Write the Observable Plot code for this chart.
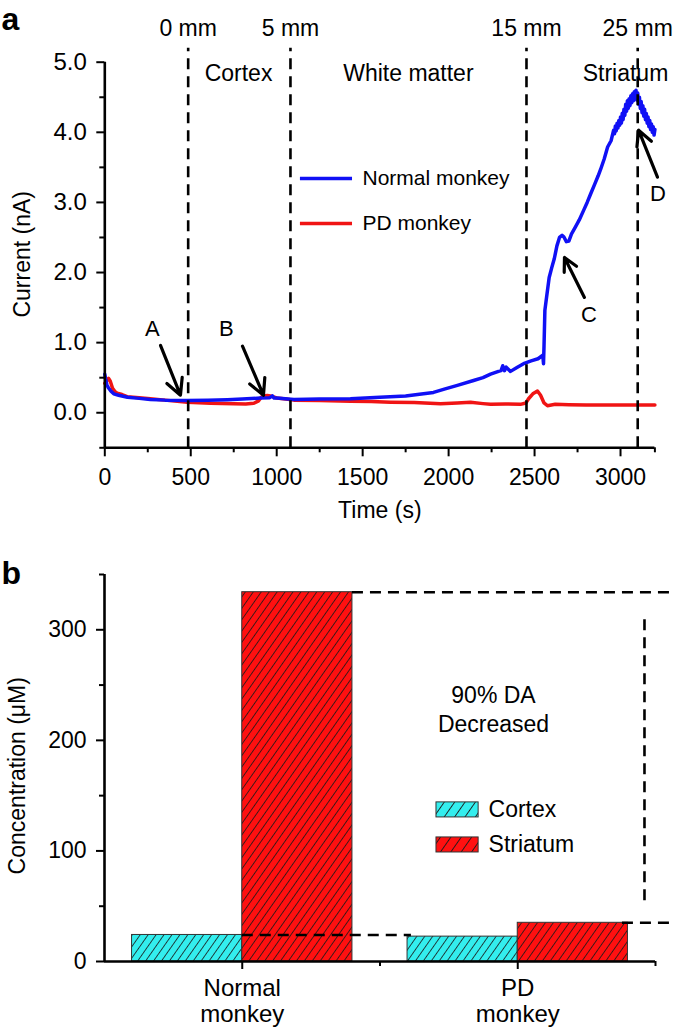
<!DOCTYPE html>
<html><head><meta charset="utf-8">
<script src="https://cdn.jsdelivr.net/npm/d3@7"></script>
<script src="https://cdn.jsdelivr.net/npm/@observablehq/plot@0.6"></script>
<style>
html,body{margin:0;padding:0;background:#fff;}
#wrap{width:675px;height:1033px;position:relative;overflow:hidden;background:#fff;}
#wrap svg{display:block;}
</style></head><body>
<svg width="0" height="0" style="position:absolute">
<defs>
<pattern id="hatchCyan" patternUnits="userSpaceOnUse" width="6.5" height="6.5" patternTransform="rotate(35)">
<rect width="6.5" height="6.5" fill="#33eeee"/><line x1="3.25" y1="0" x2="3.25" y2="6.5" stroke="#1a1a1a" stroke-width="0.8"/>
</pattern>
<pattern id="hatchRed" patternUnits="userSpaceOnUse" width="6.5" height="6.5" patternTransform="rotate(35)">
<rect width="6.5" height="6.5" fill="#ff1010"/><line x1="3.25" y1="0" x2="3.25" y2="6.5" stroke="#1a1a1a" stroke-width="0.8"/>
</pattern>
<pattern id="hatchCyanL" patternUnits="userSpaceOnUse" width="8.5" height="8.5" patternTransform="rotate(35)">
<rect width="8.5" height="8.5" fill="#33eeee"/><line x1="4.25" y1="0" x2="4.25" y2="8.5" stroke="#1a1a1a" stroke-width="0.9"/>
</pattern>
<pattern id="hatchRedL" patternUnits="userSpaceOnUse" width="8.5" height="8.5" patternTransform="rotate(35)">
<rect width="8.5" height="8.5" fill="#ff1010"/><line x1="4.25" y1="0" x2="4.25" y2="8.5" stroke="#1a1a1a" stroke-width="0.9"/>
</pattern>
</defs></svg>
<div id="wrap"></div>
<script>
const FONT = "'Liberation Sans', Arial, Helvetica, sans-serif";
const BLUE = "#1010f5";
const RED = "#f01414";

// ---------- Panel a data ----------
const normalTime = [0,5,12,20,35,52,80,132,200,265,350,480,600,713,800,905,960,975,985,1000,1100,1250,1429,1600,1750,1819,1912,1980,2051,2145,2200,2244,2290,2305,2315,2325,2335,2360,2400,2436,2480,2520,2548,2552,2555,2560,2570,2585,2600,2615,2630,2645,2660,2670,2685,2700,2715,2738,2760,2786,2806,2826,2850,2870,2884,2905,2925,2945,2960,2965,2970,2975,2980,2985,2990,2995,3000,3005,3010,3015,3020,3025,3030,3035,3040,3045,3050,3055,3060,3065,3070,3075,3080,3085,3090,3095,3100,3105,3110,3115,3120,3125,3130,3135,3140,3145,3150,3155,3160,3165,3170,3175,3180,3185,3190,3195,3200];
const normalCurrent = [0.55,0.48,0.40,0.36,0.31,0.27,0.25,0.22,0.205,0.19,0.18,0.175,0.178,0.185,0.195,0.21,0.215,0.24,0.21,0.21,0.19,0.195,0.20,0.22,0.24,0.26,0.29,0.34,0.39,0.46,0.50,0.55,0.59,0.60,0.67,0.60,0.65,0.59,0.65,0.70,0.74,0.77,0.82,0.70,0.95,1.46,1.65,1.93,2.07,2.20,2.38,2.50,2.53,2.51,2.44,2.45,2.55,2.65,2.75,2.89,3.00,3.12,3.26,3.38,3.47,3.62,3.79,3.88,4.03,3.98,4.09,4.02,4.13,4.06,4.17,4.10,4.22,4.13,4.27,4.18,4.33,4.24,4.40,4.30,4.45,4.34,4.48,4.38,4.52,4.42,4.55,4.45,4.58,4.48,4.60,4.46,4.56,4.40,4.50,4.34,4.44,4.28,4.38,4.23,4.33,4.18,4.27,4.13,4.22,4.08,4.17,4.04,4.12,4.00,4.08,3.96,4.04,3.92,3.97];
const pdTime = [0,10,22,32,45,60,72,100,130,200,265,350,480,615,750,820,867,895,910,923,945,964,1000,1040,1100,1250,1429,1550,1662,1800,1953,2050,2128,2200,2244,2330,2418,2450,2465,2490,2517,2535,2555,2575,2620,2700,2800,2900,3000,3100,3200];
const pdCurrent = [0.42,0.45,0.49,0.45,0.35,0.30,0.28,0.26,0.23,0.215,0.20,0.18,0.15,0.135,0.13,0.125,0.135,0.17,0.22,0.24,0.245,0.24,0.21,0.20,0.18,0.175,0.165,0.16,0.15,0.145,0.13,0.14,0.15,0.13,0.12,0.125,0.12,0.14,0.20,0.27,0.31,0.25,0.14,0.10,0.12,0.115,0.11,0.11,0.11,0.11,0.11];

const boundaryTime = [485, 1080, 2453, 3100];
const boundaryLabel = ["0 mm", "5 mm", "15 mm", "25 mm"];
const regionLabel = ["Cortex", "White matter", "Striatum"];
const regionTime = [778, 1766, 3029];
const arrowLabel = ["A", "B", "C", "D"];
const arrowTailT = [324, 801, 2790, 3215];
const arrowTailV = [0.96, 0.95, 1.645, 3.36];
const arrowHeadT = [440, 923, 2674, 3105];
const arrowHeadV = [0.25, 0.25, 2.215, 4.03];
const arrowLabelT = [277, 707, 2816, 3218];
const arrowLabelV = [1.2, 1.2, 1.39, 3.12];
const seriesNames = ["Normal monkey", "PD monkey"];
const xMajorA = [0, 500, 1000, 1500, 2000, 2500, 3000];
const xMinorA = [250, 750, 1250, 1750, 2250, 2750, 3200];
const yMajorA = [0, 1, 2, 3, 4, 5];
const yMinorA = [-0.5, 0.5, 1.5, 2.5, 3.5, 4.5];

// ---------- Panel b data ----------
const groupLabels = ["Normal\nmonkey", "PD\nmonkey"];
const regionNames = ["Cortex", "Striatum"];
const cortexConc = [24, 22.5];
const striatumConc = [334, 35];
const yMajorB = [0, 100, 200, 300];
const yMinorB = [50, 150, 250, 350];

const normal = normalTime.map((t, i) => ({t, v: normalCurrent[i]}));
const pd = pdTime.map((t, i) => ({t, v: pdCurrent[i]}));
const arrows = arrowLabel.map((k, i) => ({k, x1: arrowTailT[i], y1: arrowTailV[i], x2: arrowHeadT[i], y2: arrowHeadV[i], lx: arrowLabelT[i], ly: arrowLabelV[i]}));
const legendA = [
  {name: seriesNames[0], stroke: BLUE, y: 3.34},
  {name: seriesNames[1], stroke: RED, y: 2.70}
];

const style = {fontFamily: FONT, fontSize: "22px", color: "#000", background: "#fff", overflow: "visible"};

const plotA = Plot.plot({
  width: 675, height: 540,
  marginLeft: 104.3, marginRight: 20.6, marginTop: 61.7, marginBottom: 92.7,
  x: {domain: [0, 3200]},
  y: {domain: [-0.5, 5]},
  style,
  marks: [
    Plot.line(pd, {x: "t", y: "v", stroke: RED, strokeWidth: 3.5, strokeLinejoin: "round"}),
    Plot.line(normal, {x: "t", y: "v", stroke: BLUE, strokeWidth: 3.5, strokeLinejoin: "round"}),
    Plot.ruleX(boundaryTime, {x: d => d, y1: -0.5, y2: 5.2, stroke: "#000", strokeWidth: 2.6, strokeDasharray: "11,7"}),
    Plot.text(boundaryLabel, {x: (d, i) => boundaryTime[i], y: 5.48, text: d => d, fontSize: 23}),
    Plot.text(regionLabel, {x: (d, i) => regionTime[i], y: 4.83, text: d => d, fontSize: 23}),
    Plot.ruleY(legendA, {y: "y", x1: 1138, x2: 1441, stroke: d => d.stroke, strokeWidth: 3.5}),
    Plot.text(legendA, {y: "y", x: 1499, text: "name", textAnchor: "start", fontSize: 21}),
    Plot.arrow(arrows, {x1: "x1", y1: "y1", x2: "x2", y2: "y2", stroke: "#000", strokeWidth: 3.2, headLength: 12, headAngle: 55}),
    Plot.text(arrows, {x: "lx", y: "ly", text: "k", fontSize: 22}),
    Plot.ruleY([-0.5], {stroke: "#000", strokeWidth: 2.6}),
    Plot.ruleX([0], {y1: -0.5, y2: 5, stroke: "#000", strokeWidth: 2.6}),
    Plot.axisX({ticks: xMajorA, tickSize: 9, tickPadding: 12, strokeWidth: 2, tickFormat: d => String(d), label: null, fontSize: 23}),
    Plot.axisX({ticks: xMinorA, tickSize: 5, strokeWidth: 2, tickFormat: () => "", label: null}),
    Plot.axisY({ticks: yMajorA, tickSize: 8, tickPadding: 10, strokeWidth: 2, tickFormat: d => d.toFixed(1), label: null, fontSize: 24}),
    Plot.axisY({ticks: yMinorA, tickSize: 5, strokeWidth: 2, tickFormat: () => "", label: null}),
    Plot.text(["Time (s)"], {text: d => d, x: 1600, y: -1.39, fontSize: 23}),
    Plot.text(["Current (nA)"], {text: d => d, x: -476, y: 2.26, rotate: -90, fontSize: 23}),
    Plot.text(["a"], {text: d => d, x: -601, y: 5.6, textAnchor: "start", fontWeight: "bold", fontSize: 32})
  ]
});

// bars table
const bars = [];
groupLabels.forEach((g, i) => {
  bars.push({g, i, region: regionNames[0], v: cortexConc[i]});
  bars.push({g, i, region: regionNames[1], v: striatumConc[i]});
});
const BW = 0.4;
const legendB = [
  {name: regionNames[0], fill: "url(#hatchCyanL)", y1: 130.3, y2: 143.9, ty: 137},
  {name: regionNames[1], fill: "url(#hatchRedL)", y1: 98.6, y2: 112.2, ty: 105.4}
];

const plotB = Plot.plot({
  width: 675, height: 493,
  marginLeft: 104, marginRight: 20, marginTop: 34, marginBottom: 72,
  x: {domain: [-0.5, 1.5]},
  y: {domain: [0, 350]},
  style,
  marks: [
    Plot.rect(bars.filter(d => d.region === regionNames[0]), {x1: d => d.i - BW, x2: d => d.i, y1: 0, y2: "v", fill: "url(#hatchCyan)", stroke: "#333", strokeWidth: 1}),
    Plot.rect(bars.filter(d => d.region === regionNames[1]), {x1: d => d.i, x2: d => d.i + BW, y1: 0, y2: "v", fill: "url(#hatchRed)", stroke: "#333", strokeWidth: 1}),
    Plot.ruleY([striatumConc[0]], {x1: BW, x2: 1.57, stroke: "#000", strokeWidth: 2.6, strokeDasharray: "11,7"}),
    Plot.ruleX([1.46], {y1: 55, y2: 313, stroke: "#000", strokeWidth: 2.6, strokeDasharray: "11,7"}),
    Plot.ruleY([striatumConc[1]], {x1: 1.38, x2: 1.57, stroke: "#000", strokeWidth: 2.6, strokeDasharray: "11,7"}),
    Plot.ruleY([cortexConc[0]], {x1: 0, x2: 0.614, stroke: "#000", strokeWidth: 2.6, strokeDasharray: "11,7"}),
    Plot.text(["90% DA\nDecreased"], {text: d => d, x: 0.912, y: 229.4, fontSize: 23, lineHeight: 1.28}),
    Plot.rect(legendB, {x1: 0.705, x2: 0.858, y1: "y1", y2: "y2", fill: d => d.fill, stroke: "#333", strokeWidth: 1}),
    Plot.text(legendB, {x: 0.894, y: "ty", text: "name", textAnchor: "start", fontSize: 23}),
    Plot.ruleY([0], {stroke: "#000", strokeWidth: 2.6}),
    Plot.ruleX([-0.5], {y1: 0, y2: 350, stroke: "#000", strokeWidth: 2.6}),
    Plot.axisY({ticks: yMajorB, tickSize: 8, tickPadding: 10, strokeWidth: 2, tickFormat: d => String(d), label: null, fontSize: 23}),
    Plot.axisY({ticks: yMinorB, tickSize: 5, strokeWidth: 2, tickFormat: () => "", label: null}),
    Plot.axisX({ticks: [0, 1], tickSize: 8, strokeWidth: 2, tickFormat: () => "", label: null}),
    Plot.axisX({ticks: [0.5, 1.5], tickSize: 5, strokeWidth: 2, tickFormat: () => "", label: null}),
    Plot.text(groupLabels, {x: (d, i) => i, y: 0, text: d => d, lineAnchor: "top", dy: 17, fontSize: 24, lineHeight: 1.05}),
    Plot.text(["Concentration (μM)"], {text: d => d, x: -0.816, y: 168, rotate: -90, fontSize: 23}),
    Plot.text(["b"], {text: d => d, x: -0.874, y: 351, textAnchor: "start", fontWeight: "bold", fontSize: 32})
  ]
});

const wrap = document.getElementById("wrap");
wrap.append(plotA);
wrap.append(plotB);
</script>
</body></html>
